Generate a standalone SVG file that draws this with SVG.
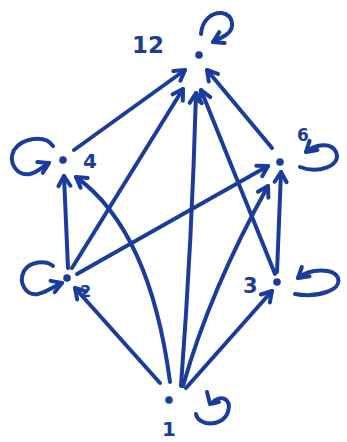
<svg xmlns="http://www.w3.org/2000/svg" width="347" height="442" viewBox="0 0 347 442">
<style>
.e{fill:none;stroke:#1a3c9c;stroke-width:4;stroke-linecap:round;stroke-linejoin:round}
.d{fill:#1a3c9c}
.t{fill:#1a3c9c;font-family:"DejaVu Sans",sans-serif;font-weight:bold}
</style>
<defs>
<marker id="ah" markerUnits="userSpaceOnUse" viewBox="-14 -9 16 18" markerWidth="16" markerHeight="18" refX="0" refY="0" orient="auto" overflow="visible">
<path d="M-10,-6 L0,0 L-10,6" fill="none" stroke="#1a3c9c" stroke-width="4" stroke-linecap="round" stroke-linejoin="round"/>
</marker>
</defs>
<rect width="347" height="442" fill="#ffffff"/>
<g id="connectors">
<path class="e" marker-end="url(#ah)" d="M160,383 L75,288"/>
<path class="e" marker-end="url(#ah)" d="M170,382 Q150,230 76,177"/>
<path class="e" marker-end="url(#ah)" d="M181,386 Q192,240 196,93"/>
<path class="e" marker-end="url(#ah)" d="M183,386 Q210,290 268,186"/>
<path class="e" marker-end="url(#ah)" d="M186,388 L272,291"/>
<path class="e" marker-end="url(#ah)" d="M68,268 L64,176"/>
<path class="e" marker-end="url(#ah)" d="M77,274 L268,166"/>
<path class="e" marker-end="url(#ah)" d="M72,268 L183,89"/>
<path class="e" marker-end="url(#ah)" d="M277,272 L281,172"/>
<path class="e" marker-end="url(#ah)" d="M275,274 L201,90"/>
<path class="e" marker-end="url(#ah)" d="M74,150 L185,70"/>
<path class="e" marker-end="url(#ah)" d="M272,148 L207,70"/>
</g>
<g id="n12">
<circle class="d" cx="199" cy="55" r="3.8"/>
<path class="e" marker-end="url(#ah)" d="M201,34 C202,20 212,12 222,13 C233,15 236,28 226,35 C221,38 217,40 213,42"/>
<text class="t" x="132" y="53" font-size="23">12</text>
</g>
<g id="n4">
<circle class="d" cx="63" cy="160" r="3.8"/>
<path class="e" marker-end="url(#ah)" d="M53,146 C45,134 22,138 14,150 C8,162 16,176 30,174 C38,172 43,166 49,163"/>
<text class="t" x="83" y="168" font-size="20">4</text>
</g>
<g id="n6">
<circle class="d" cx="280" cy="162" r="3.8"/>
<path class="e" marker-end="url(#ah)" d="M300,167 C318,174 342,166 336,152 C331,141 314,145 306,152"/>
<text class="t" x="297" y="141" font-size="17">6</text>
</g>
<g id="n2">
<circle class="d" cx="67" cy="278" r="3.8"/>
<path class="e" marker-end="url(#ah)" d="M53,266 C46,260 30,261 24,271 C18,283 26,296 38,294 C47,292 54,286 62,283"/>
<text class="t" x="80" y="297" font-size="16">2</text>
</g>
<g id="n3">
<circle class="d" cx="277" cy="282" r="3.8"/>
<path class="e" marker-end="url(#ah)" d="M295,294 C318,298 342,290 338,278 C334,268 310,268 298,278"/>
<text class="t" x="243" y="293" font-size="21">3</text>
</g>
<g id="n1">
<circle class="d" cx="169" cy="400" r="3.8"/>
<path class="e" d="M196,414 C198,426 222,428 228,412 C232,398 220,394 212,403"/>
<path class="e" d="M207,392 L210,404 L219,402"/>
<text class="t" x="162" y="436" font-size="20">1</text>
</g>
</svg>
